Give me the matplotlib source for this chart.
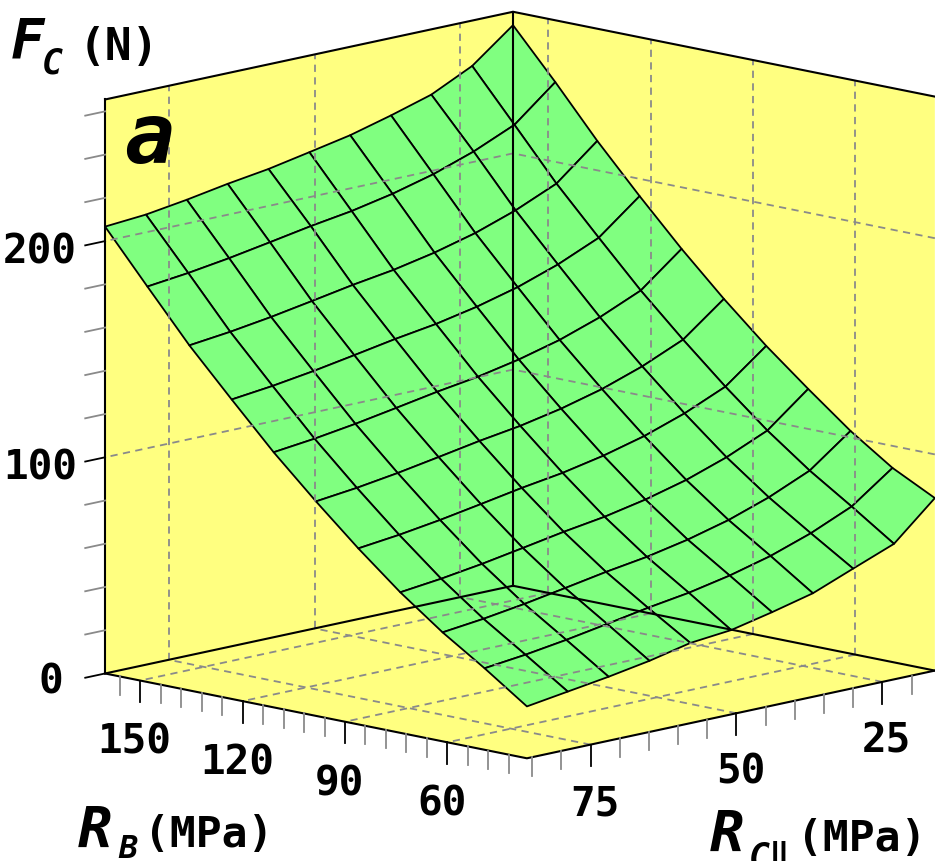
import numpy as np
import matplotlib
matplotlib.use("Agg")
import matplotlib.pyplot as plt
from mpl_toolkits.mplot3d import proj3d
from mpl_toolkits.mplot3d.art3d import Poly3DCollection

rb = np.array([160.3, 147.9, 135.6, 123.2, 110.9, 98.5, 86.1, 73.8, 61.4, 49.1, 36.7])
rc = np.array([85.9, 78.9, 71.9, 64.9, 57.9, 50.9, 43.9, 36.9, 30.0, 23.0, 16.0])
# rows follow rb, columns follow rc
fc = np.array([
    [206.7, 208.2, 211.0, 214.3, 217.1, 220.8, 224.6, 229.7, 235.3, 244.5, 259.3],
    [182.9, 185.1, 187.9, 191.2, 194.6, 197.5, 201.4, 206.4, 212.9, 221.2, 236.9],
    [159.6, 161.8, 164.6, 167.9, 171.3, 174.2, 178.1, 183.1, 189.6, 197.9, 213.6],
    [138.5, 140.7, 143.5, 146.8, 150.2, 153.1, 157.0, 162.0, 168.5, 176.8, 192.0],
    [118.0, 120.2, 123.0, 126.3, 129.7, 132.6, 136.5, 141.5, 148.0, 156.3, 171.5],
    [99.2, 101.4, 104.2, 107.5, 110.9, 113.8, 117.7, 122.7, 129.2, 137.5, 152.3],
    [81.4, 83.6, 86.4, 89.7, 93.1, 96.0, 99.9, 104.9, 111.4, 119.7, 134.5],
    [65.0, 67.2, 70.0, 73.3, 76.7, 79.6, 83.5, 88.5, 95.0, 103.3, 118.5],
    [50.4, 52.6, 55.4, 58.7, 62.1, 65.0, 68.9, 73.9, 80.4, 88.7, 103.0],
    [37.7, 39.9, 42.7, 46.0, 49.4, 52.3, 56.2, 61.2, 67.7, 76.0, 89.8],
    [24.0, 26.8, 29.6, 32.9, 37.1, 39.0, 43.2, 47.9, 55.3, 62.7, 79.8],
])

rb_major = [150, 120, 90, 60]
rc_major = [75, 50, 25]
fc_major = [0, 100, 200]
rb_minor = [156, 144, 138, 132, 126, 114, 108, 102, 96, 84, 78, 72, 66, 54, 48, 42]
rc_minor = [85, 80, 70, 65, 60, 55, 45, 40, 35, 30, 20]
fc_minor = [20, 40, 60, 80, 120, 140, 160, 180, 220, 240, 260]

W, H = 935, 861
YELLOW = "#ffff80"
GREEN = "#80ff80"
GREY = "#8a8a8a"
FAM = "DejaVu Sans Mono"

x0, x1 = rb[-1], rb[0]
y0, y1 = rc[-1], rc[0]
z0, z1 = 0, 265.5

fig = plt.figure(figsize=(W/100, H/100), dpi=100, facecolor="white")
A = 1100
ax = fig.add_axes([-44.9/W, -88.9/H, A/W, A/H], projection="3d", computed_zorder=False)
ax.set_proj_type("ortho")
ax.view_init(elev=12.0, azim=134.04)
ax.set_box_aspect((1, 1, 1), zoom=0.897)
ax.set_xlim(x0, x1)
ax.set_ylim(y0, y1)
ax.set_zlim(z0, z1)
ax.set_xticks([])
ax.set_yticks([])
ax.set_zticks([])
ax.set_axis_off()
ax.patch.set_alpha(0)

walls = [
    [(x1, y0, z0), (x1, y1, z0), (x1, y1, z1), (x1, y0, z1)],
    [(x0, y0, z0), (x1, y0, z0), (x1, y0, z1), (x0, y0, z1)],
    [(x0, y0, z0), (x1, y0, z0), (x1, y1, z0), (x0, y1, z0)],
]
ax.add_collection3d(Poly3DCollection(walls, facecolor=YELLOW, edgecolor="none", zorder=1))

X, Y = np.meshgrid(rb, rc, indexing="ij")
ax.plot_surface(X, Y, fc, rstride=1, cstride=1, color=GREEN, edgecolor="black",
                linewidth=1.3, shade=False, zorder=2)


def line(xs, ys, zs, **kw):
    ax.plot(xs, ys, zs, **kw)


dash = dict(color=GREY, lw=1.3, ls=(0, (4, 3)), zorder=3)
for r in rc_major:
    line([x1, x1], [r, r], [z0, z1], **dash)
    line([x0, x1], [r, r], [z0, z0], **dash)
for r in rb_major:
    line([r, r], [y0, y0], [z0, z1], **dash)
    line([r, r], [y0, y1], [z0, z0], **dash)
for z in fc_major[1:]:
    line([x1, x1], [y0, y1], [z, z], **dash)
    line([x0, x1], [y0, y0], [z, z], **dash)

edge = dict(color="black", lw=1.5, zorder=4)
line([x1, x1, x0], [y1, y0, y0], [z1, z1, z1], **edge)
line([x1, x1], [y1, y1], [z0, z1], **edge)
line([x1, x1], [y0, y0], [z0, z1], **edge)
line([x1, x1, x0], [y1, y0, y0], [z0, z0, z0], **edge)
line([x1, x0, x0], [y1, y1, y0], [z0, z0, z0], **edge)

# ticks
for r in rb_minor:
    line([r, r], [y1, y1], [z0, -8.5], color=GREY, lw=1.3, zorder=4)
for r in rb_major:
    line([r, r], [y1, y1], [z0, -10], color="black", lw=1.3, zorder=4)
for r in rc_minor:
    line([x0, x0], [r, r], [z0, -8.5], color=GREY, lw=1.3, zorder=4)
for r in rc_major:
    line([x0, x0], [r, r], [z0, -10], color="black", lw=1.3, zorder=4)
for z in fc_minor:
    line([x1, x1], [y1, y1 + 3.4], [z, z], color=GREY, lw=1.3, zorder=4)
for z in fc_major:
    line([x1, x1], [y1, y1 + 3.4], [z, z], color="black", lw=1.3, zorder=4)


def label3d(x, y, z, s):
    # plain 2D text at the projected spot of a 3D point
    px, py, _ = proj3d.proj_transform(x, y, z, ax.get_proj())
    ax.text2D(px, py, s, transform=ax.transData, family=FAM, weight="bold", fontsize=29.5,
              ha="center", va="center", color="black", zorder=5)


for r in rb_major:
    label3d(r, y1 + 1.0, -28, str(r))
for r in rc_major:
    label3d(x0 - 1.2, r, -27, str(r))
for z in fc_major:
    dy = 9.3 if z == 0 else 11.2
    label3d(x1, y1 + dy, z + 1.6, str(z))


def txt(x, y, s, size, style="normal"):
    fig.text(x/W, 1 - y/H, s, family=[FAM, "DejaVu Sans"], weight="bold", style=style,
             fontsize=size, ha="left", va="baseline", color="black")


txt(11, 58, "F", 40, "oblique")
txt(42, 73, "C", 25, "oblique")
txt(79, 60, "(N)", 32)
txt(124, 163, "a", 60, "oblique")
txt(78, 848, "R", 41, "oblique")
txt(118, 858, "B", 23, "oblique")
txt(144, 847, "(MPa)", 31)
txt(710, 852, "R", 41, "oblique")
txt(749, 868, "C\u2016", 25, "oblique")
txt(797, 851, "(MPa)", 31)

fig.savefig("out.png", dpi=100)
